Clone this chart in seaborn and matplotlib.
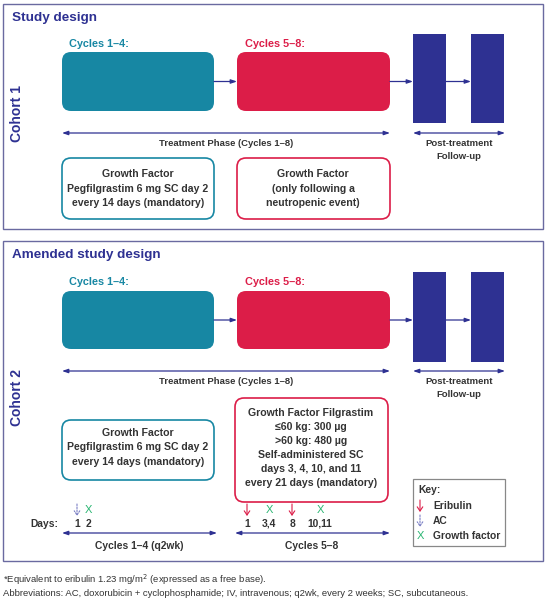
import numpy as np
import pandas as pd
import seaborn as sns
import matplotlib
matplotlib.use('Agg')
import matplotlib.pyplot as plt
from matplotlib.patches import FancyBboxPatch, Rectangle

sns.set_style('white')
plt.rcParams['font.family'] = ['Liberation Sans', 'DejaVu Sans']

# text content
panel_titles = ['Study design', 'Amended study design']
cohort_labels = ['Cohort 1', 'Cohort 2']
cycle_labels = ['Cycles 1–4:', 'Cycles 5–8:']
phase_label = 'Treatment Phase (Cycles 1–8)'
post_label = 'Post-treatment\nFollow-up'
gf_early = ['Growth Factor', 'Pegfilgrastim 6 mg SC day 2', 'every 14 days (mandatory)']
gf_late_c1 = ['Growth Factor', '(only following a', 'neutropenic event)']
gf_late_c2 = ['Growth Factor Filgrastim', '≤60 kg: 300 µg', '>60 kg: 480 µg',
              'Self-administered SC', 'days 3, 4, 10, and 11', 'every 21 days (mandatory)']
day_labels_q2wk = ['1', '2']
day_marks_q2wk = ['AC', 'GF']
day_labels_q3wk = ['1', '3,4', '8', '10,11']
day_marks_q3wk = ['Eribulin', 'GF', 'Eribulin', 'GF']
schedule_labels = ['Cycles 1–4 (q2wk)', 'Cycles 5–8']
key_items = ['Eribulin', 'AC', 'Growth factor']
footnotes = ['*Equivalent to eribulin 1.23 mg/m$^2$ (expressed as a free base).',
             'Abbreviations: AC, doxorubicin + cyclophosphamide; IV, intravenous; q2wk, every 2 weeks; SC, subcutaneous.']

# colours
TEAL = '#1787a3'
RED = '#dc1d48'
NAVY = '#2e3192'
BORDER = '#6a6aa0'
TXT = '#333333'
GREEN = '#2bb673'
AC_COL = '#7a7fc4'

fig = plt.figure(figsize=(5.47, 6.01), dpi=100)
ax = fig.add_axes([0, 0, 1, 1])
ax.set_xlim(0, 547)
ax.set_ylim(601, 0)
ax.axis('off')


def rbox(x0, y0, x1, y1, face, edge, lw=1.2):
    ax.add_patch(FancyBboxPatch((x0, y0), x1 - x0, y1 - y0,
                                boxstyle='round,pad=0,rounding_size=9',
                                fc=face, ec=edge, lw=lw))


def arrow(x0, x1, y, both=False):
    style = '<|-|>' if both else '-|>'
    ax.annotate('', xy=(x1, y), xytext=(x0, y),
                arrowprops=dict(arrowstyle=style + ',head_length=0.35,head_width=0.12',
                                color=NAVY, lw=0.9, shrinkA=0, shrinkB=0))


def multiline(lines, xc, ytop, step, size=7.6):
    for i, s in enumerate(lines):
        ax.text(xc, ytop + i * step, s, ha='center', va='center', fontsize=size,
                fontweight='bold', color=TXT)


def panel(ytop, ybot, title, cohort, cyc_y, box_y0, box_y1, bar_y0, bar_y1, phase_y):
    ax.add_patch(Rectangle((3, ytop), 540, ybot - ytop, fc='none', ec=BORDER, lw=1.0))
    ax.text(12, ytop + 14, title, fontsize=9.7, fontweight='bold', color=NAVY, va='center')
    ax.text(17, cohort[1], cohort[0], rotation=90, fontsize=10, fontweight='bold',
            color=NAVY, ha='center', va='center')
    ax.text(69, cyc_y, cycle_labels[0], fontsize=7.8, fontweight='bold', color=TEAL, va='center')
    ax.text(245, cyc_y, cycle_labels[1], fontsize=7.8, fontweight='bold', color=RED, va='center')
    rbox(62, box_y0, 214, box_y1, TEAL, TEAL, 0)
    rbox(237, box_y0, 390, box_y1, RED, RED, 0)
    for bx in [413, 471]:
        ax.add_patch(Rectangle((bx, bar_y0), 33, bar_y1 - bar_y0, fc=NAVY, ec='none'))
    ym = (box_y0 + box_y1) / 2
    arrow(214, 237, ym)
    arrow(390, 413, ym)
    arrow(446, 471, ym)
    arrow(62, 390, phase_y, both=True)
    arrow(413, 505, phase_y, both=True)
    ax.text(226, phase_y + 11, phase_label, fontsize=6.8, fontweight='bold', color=TXT,
            ha='center', va='center')
    ax.text(459, phase_y + 17, post_label, fontsize=6.8, fontweight='bold', color=TXT,
            ha='center', va='center', linespacing=1.45)


# panel 1
panel(4, 229, panel_titles[0], (cohort_labels[0], 113), 44, 52, 111, 34, 123, 133)
rbox(62, 158, 214, 219, 'white', TEAL)
rbox(237, 158, 390, 219, 'white', RED)
multiline(gf_early, 138, 174, 14.5)
multiline(gf_late_c1, 313, 174, 14.5)

# panel 2
panel(241, 561, panel_titles[1], (cohort_labels[1], 398), 282, 291, 349, 272, 362, 371)
rbox(62, 420, 214, 480, 'white', TEAL)
rbox(235, 398, 388, 502, 'white', RED)
multiline(gf_early, 138, 433, 14.5)
multiline(gf_late_c2, 311, 413, 14.0)


def mark(kind, x, y):
    if kind == 'Eribulin':
        ax.annotate('', xy=(x, y + 6), xytext=(x, y - 6),
                    arrowprops=dict(arrowstyle='->,head_length=0.3,head_width=0.2',
                                    color=RED, lw=0.8, shrinkA=0, shrinkB=0))
    elif kind == 'AC':
        ax.annotate('', xy=(x, y + 6), xytext=(x, y - 6),
                    arrowprops=dict(arrowstyle='->,head_length=0.3,head_width=0.2',
                                    color=AC_COL, lw=0.8, ls=(0, (1.5, 1.2)),
                                    shrinkA=0, shrinkB=0))
    else:
        ax.text(x, y, 'X', color=GREEN, fontsize=8, ha='center', va='center')


# days schedule
ax.text(44, 524, 'Days:', fontsize=7.4, fontweight='bold', color=TXT, ha='center', va='center')
for lab, kind, x in zip(day_labels_q2wk, day_marks_q2wk, [77, 88]):
    ax.text(x, 524, lab, fontsize=7.4, fontweight='bold', color=TXT, ha='center', va='center')
    mark(kind, x, 510)
for lab, kind, x in zip(day_labels_q3wk, day_marks_q3wk, [247, 269, 292, 320]):
    ax.text(x, 524, lab, fontsize=7.4, fontweight='bold', color=TXT, ha='center', va='center')
    mark(kind, x, 510)
arrow(62, 217, 533, both=True)
arrow(235, 390, 533, both=True)
ax.text(139, 546, schedule_labels[0], fontsize=7.4, fontweight='bold', color=TXT,
        ha='center', va='center')
ax.text(312, 546, schedule_labels[1], fontsize=7.4, fontweight='bold', color=TXT,
        ha='center', va='center')

# key
ax.add_patch(Rectangle((413, 479), 92, 67, fc='white', ec='#888888', lw=0.9))
ax.text(418, 490, 'Key:', fontsize=7.4, fontweight='bold', color=TXT, va='center')
for i, item in enumerate(key_items):
    y = 506 + i * 15
    mark(item if item != 'Growth factor' else 'GF', 420, y)
    ax.text(433, y, item, fontsize=7.4, fontweight='bold', color=TXT, va='center')

# footnotes
ax.text(3, 580, footnotes[0], fontsize=6.8, color=TXT, va='center')
ax.text(3, 593, footnotes[1], fontsize=6.8, color=TXT, va='center')

fig.savefig('out.png', dpi=100, facecolor='white')
